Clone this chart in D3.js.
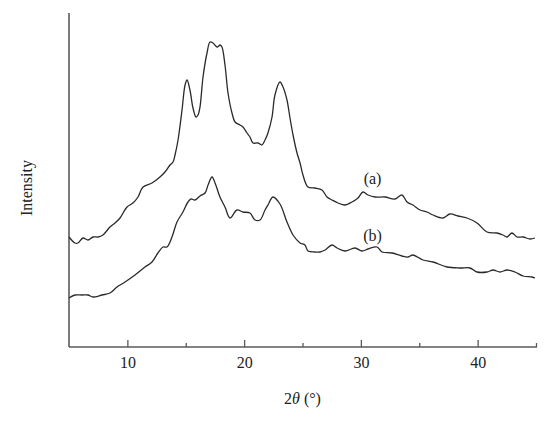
<!DOCTYPE html>
<html>
<head>
<meta charset="utf-8">
<script src="https://cdn.jsdelivr.net/npm/d3@7"></script>
<style>
html,body{margin:0;padding:0;background:#fff;}
svg{display:block;}
text{font-family:"Liberation Serif","Times New Roman",serif;fill:#222;}
</style>
</head>
<body>
<svg id="chart" width="550" height="426"></svg>
<script>
// 2θ positions (degrees) and intensities (arbitrary units) for curve (a)
const thetaA = [5.00,5.51,5.77,6.20,6.63,7.06,7.48,7.91,8.51,8.94,9.37,9.97,10.48,10.91,11.34,12.11,12.79,13.22,13.65,13.91,14.08,14.34,14.68,14.94,15.11,15.36,15.62,15.88,16.05,16.22,16.48,16.82,17.08,17.33,17.68,17.94,18.10,18.36,18.62,18.96,19.22,19.65,19.90,20.25,20.50,20.76,21.19,21.53,21.79,22.04,22.39,22.64,23.07,23.33,23.67,23.93,24.19,24.53,24.79,25.04,25.47,26.07,26.67,27.10,27.53,28.04,28.64,29.24,29.75,30.18,30.61,31.21,32.07,32.92,33.52,33.95,34.46,35.06,35.66,36.18,37.03,37.63,38.32,39.09,39.95,40.80,41.66,42.17,42.52,42.94,43.37,43.89,44.49,44.91];
const intensityA = [110,104,104,109,107,110,110,112,120,124,129,140,144,150,160,164,170,175,182,185,192,207,237,262,267,257,239,230,232,240,270,294,305,304,300,302,300,282,254,234,225,222,220,214,210,204,204,202,207,214,230,252,265,260,247,229,212,194,184,172,160,159,157,150,147,144,142,145,149,155,152,150,150,148,152,145,142,137,135,132,129,133,131,129,124,115,114,112,110,114,110,110,108,109];

// curve (b)
const thetaB = [5.00,5.51,6.11,6.63,7.06,7.83,8.51,9.11,9.80,10.65,11.51,12.11,12.62,13.05,13.39,13.82,14.25,14.76,15.19,15.45,15.79,16.22,16.65,16.91,17.25,17.51,17.93,18.36,18.79,19.39,19.90,20.50,20.93,21.36,21.79,22.04,22.47,23.07,23.67,24.19,24.79,25.21,25.47,26.07,26.50,26.93,27.53,27.96,28.64,29.50,30.10,30.61,31.38,31.81,32.67,33.52,34.04,34.46,35.32,36.18,37.38,38.49,39.35,39.95,40.80,41.32,41.92,42.52,43.20,43.89,44.66,44.91];
const intensityB = [49,52,52,52,50,52,54,60,65,72,80,85,94,100,100,110,125,135,145,148,147,151,154,162,170,164,150,140,129,137,135,134,127,127,137,142,150,143,125,112,104,102,96,95,95,97,102,99,96,99,96,98,100,95,94,91,90,92,87,85,80,79,79,75,75,77,75,77,75,71,70,69];

const majorTicks = [10,20,30,40];
const minorTicks = [15,25,35,45];
const seriesLabels = ["(a)","(b)"];
const labelTheta = [31.0, 31.0];
const labelIntensity = [169, 112];

const svg = d3.select("#chart");
const mLeft = 69, mRight = 536, mTop = 13, mBottom = 347;

const x = d3.scaleLinear().domain([5,45]).range([mLeft,mRight]);
const y = d3.scaleLinear().domain([0,334]).range([mBottom,mTop]);

const axisColor = "#5a5a5a";

// x axis (ticks pointing inward/up)
const gx = svg.append("g").attr("transform",`translate(0,${mBottom})`);
gx.append("g").call(d3.axisTop(x).tickValues(minorTicks).tickSize(4).tickFormat(""))
  .call(g=>g.select(".domain").remove());
gx.append("g").call(d3.axisTop(x).tickValues(majorTicks).tickSize(7).tickFormat(""))
  .call(g=>g.select(".domain").remove());
gx.selectAll(".tick line").attr("stroke",axisColor).attr("stroke-width",1.3);

// major tick labels below axis
const gl = svg.append("g").attr("transform",`translate(0,${mBottom})`);
gl.call(d3.axisBottom(x).tickValues(majorTicks).tickSize(0).tickPadding(10).tickFormat(d3.format("d")))
  .call(g=>g.select(".domain").remove());
gl.selectAll("text").attr("font-size",16).attr("font-family","'Liberation Serif',serif").attr("fill","#222");

// axis lines
svg.append("line").attr("x1",mLeft).attr("x2",mRight+1).attr("y1",mBottom).attr("y2",mBottom)
  .attr("stroke",axisColor).attr("stroke-width",1.6);
svg.append("line").attr("x1",mLeft).attr("x2",mLeft).attr("y1",mTop).attr("y2",mBottom)
  .attr("stroke",axisColor).attr("stroke-width",1.6);

// curves
const line = d3.line().x(d=>x(d[0])).y(d=>y(d[1])).curve(d3.curveCatmullRom.alpha(0.5));
const dataA = thetaA.map((t,i)=>[t,intensityA[i]]);
const dataB = thetaB.map((t,i)=>[t,intensityB[i]]);
[dataA,dataB].forEach(d=>{
  svg.append("path").datum(d).attr("d",line)
    .attr("fill","none").attr("stroke","#2a2a2a").attr("stroke-width",1.3)
    .attr("stroke-linejoin","round");
});

// series labels
seriesLabels.forEach((s,i)=>{
  svg.append("text").attr("x",x(labelTheta[i])).attr("y",y(labelIntensity[i]))
    .attr("text-anchor","middle").attr("dominant-baseline","central")
    .attr("font-size",16).text(s);
});

// axis titles
const xt = svg.append("text").attr("x",(mLeft+mRight)/2).attr("y",398)
  .attr("text-anchor","middle").attr("dominant-baseline","central").attr("font-size",16);
xt.append("tspan").text("2");
xt.append("tspan").attr("font-style","italic").text("θ");
xt.append("tspan").text(" (°)");

svg.append("text").attr("transform",`translate(26,${(mTop+mBottom)/2+8}) rotate(-90)`)
  .attr("text-anchor","middle").attr("dominant-baseline","central").attr("font-size",16)
  .text("Intensity");
</script>
</body>
</html>
